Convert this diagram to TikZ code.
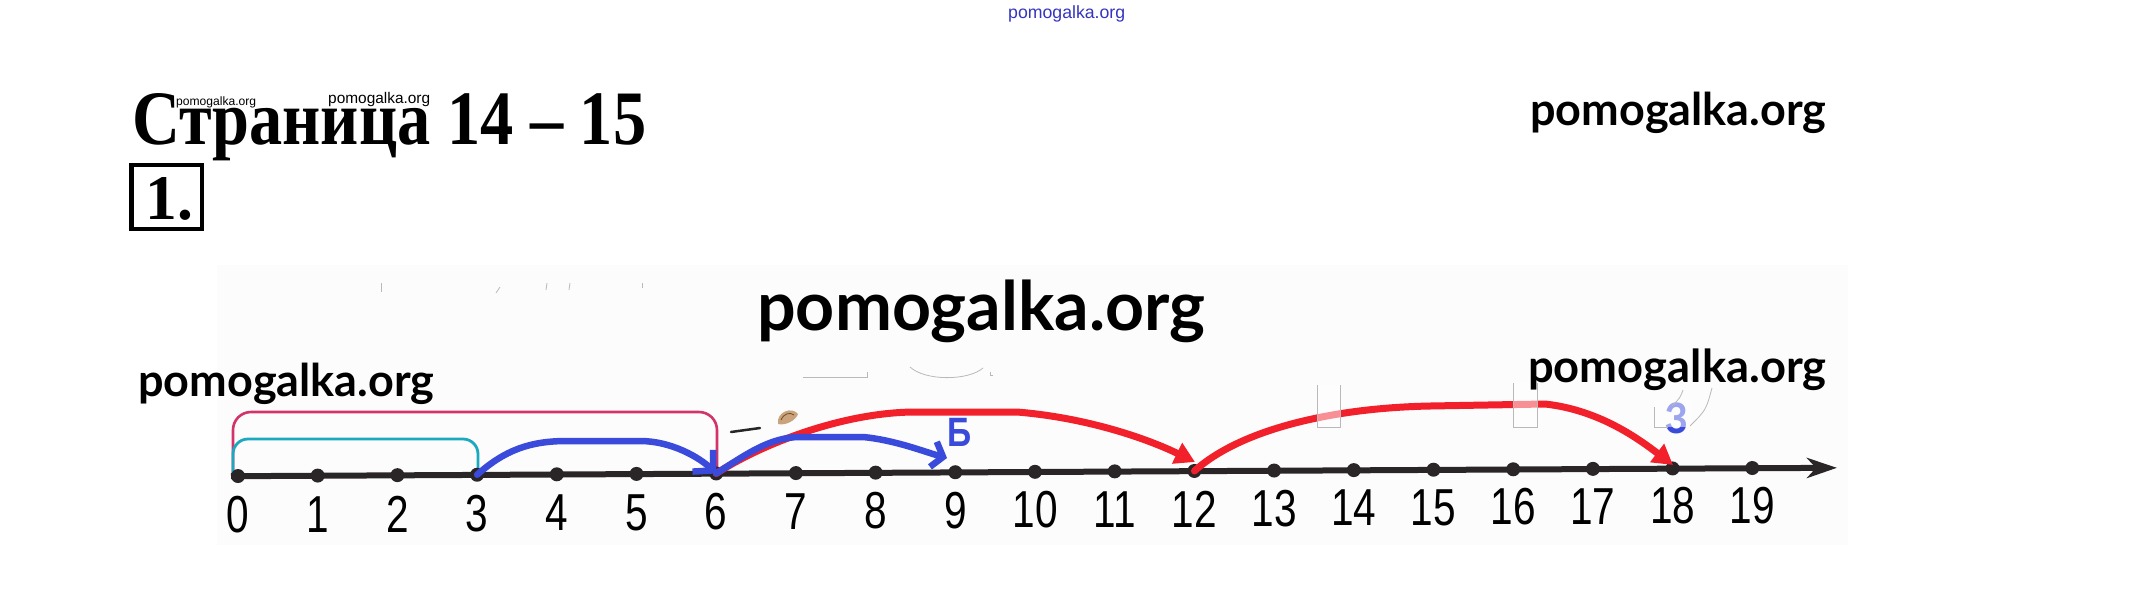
\documentclass[tikz,border=0pt]{standalone}
\usepackage{fontspec}
\usepackage{graphicx}
\setmainfont{Liberation Serif}
\newfontfamily\lato{Lato}
\newfontfamily\arialf{Liberation Sans}
\usetikzlibrary{arrows.meta,calc}
\definecolor{axisc}{HTML}{2A2526}
\definecolor{pinkc}{HTML}{D3336B}
\definecolor{tealc}{HTML}{1CA9C0}
\definecolor{bluec}{HTML}{3A4BDB}
\definecolor{redc}{HTML}{F2202A}
\definecolor{wmblue}{HTML}{3535C0}
\definecolor{tanc}{HTML}{C9A37C}
\begin{document}
\begin{tikzpicture}[x=1pt,y=-1pt,
  wm/.style={inner sep=0pt, anchor=base west},
  dot/.style={circle, fill=axisc, inner sep=0pt, minimum size=14pt},
  num/.style={inner sep=0pt, font=\arialf\fontsize{52}{52}\selectfont},
  bluearc/.style={draw=bluec, line width=6.5pt, line cap=round, line join=round},
  redarc/.style={draw=redc, line width=7pt, line cap=round, line join=round},
  faint/.style={draw=gray!55, line width=0.8pt},
  veil/.style={fill=white, fill opacity=0.5},
]
\useasboundingbox (0,0) rectangle (2131,598);
\fill[white] (0,0) rectangle (2131,598);
% picture background
\fill[black!1.2] (217,265) rectangle (1848,545);
% faint remnants
\draw[faint] (381,283) -- (381,292);
\draw[faint] (496,293) -- (500,287);
\draw[faint] (547,283) -- (546,290);
\draw[faint] (570,283) -- (569,290);
\draw[faint] (642,283) -- (642,288);
\draw[faint] (803,377) -- (867,377) -- (867,372);
\draw[faint] (910,367) .. controls (925,381) and (968,381) .. (983,368);
\draw[faint] (990,372) -- (990,375) -- (993,375);
% title
\node[anchor=base west, inner sep=0pt] (title) at (132,144) {\resizebox{514pt}{51pt}{\bfseries Страница 14 – 15}};
\node[draw, line width=4.5pt, minimum width=70.5pt, minimum height=64pt, inner sep=0pt] (box1) at (166.5,197) {};
\node[anchor=base west, inner sep=0pt] (num1) at (145,219) {\resizebox{!}{42pt}{\bfseries 1.}};
\node[wm] (wma) at (176,105) {\resizebox{80pt}{!}{\arialf pomogalka.org}};
\node[wm] (wmb) at (328,103) {\resizebox{102pt}{!}{\arialf pomogalka.org}};
\node[wm] (wmtop) at (1008,18) {\resizebox{117pt}{!}{\color{wmblue}\arialf pomogalka.org}};
% brackets
\coordinate (b0) at (233,476);
\draw[pinkc, line width=2.6pt, rounded corners=18pt] (b0) -- ++(0,-64) -| (717,472);
\draw[tealc, line width=2.8pt, rounded corners=15pt] (b0) -- ++(0,-37) -| (478,474);
% axis
\coordinate (axs) at (231,476.2);
\coordinate (axe) at (1837,467.8);
\draw[axisc, line width=6pt, -{Stealth[length=30pt,width=20pt,inset=9pt]}] (axs) -- (axe);
\foreach \n in {0,...,19}{
  \node[dot] (d\n) at ({238+79.7*\n},{476-0.42*\n}) {};
  \node[num] (l\n) at ({238+79.7*\n},{515-0.5*\n}) {\scalebox{0.78}[1]{\n}};
}
\coordinate (f9) at (947,458);
\coordinate (f12) at (1195,462);
\coordinate (f18) at (1673,465);
% arcs
\draw[redarc, -{Triangle[length=20pt,width=22pt]}] (d6.center) .. controls (760,445) and (840,413) .. (913,412) -- (1017,412) .. controls (1090,418) and (1150,440) .. (f12);
\draw[redarc, -{Triangle[length=20pt,width=22pt]}] (d12.center) .. controls (1240,430) and (1330,408) .. (1430,406) -- (1545,404) .. controls (1600,410) and (1640,440) .. (f18);
\draw[bluearc, -{Straight Barb[length=14pt,width=30pt]}] (d3.center) .. controls (505,450) and (530,441) .. (567,441) -- (640,441) .. controls (672,441) and (700,458) .. (d6.center);
\draw[bluearc, -{Straight Barb[length=10pt,width=26pt]}] (d6.center) .. controls (745,455) and (770,437) .. (800,437) -- (863,437) .. controls (895,440) and (925,452) .. (f9);
% white overlay boxes
\fill[veil] (1317,385) rectangle (1340,427);
\draw[faint] (1317,385) |- (1340,427) -- (1340,385);
\fill[veil] (1513,383) rectangle (1537,427);
\draw[faint] (1513,383) |- (1537,427) -- (1537,383);
% letters
\node[inner sep=0pt, text=bluec, font=\arialf\bfseries\fontsize{41}{41}\selectfont] (lb) at (960,432) {\scalebox{0.82}[1]{Б}};
\node[inner sep=0pt, text=bluec, font=\arialf\bfseries\fontsize{44}{44}\selectfont] (lz) at (1677,418) {\scalebox{0.82}[1]{З}};
\fill[veil] (1654,400) rectangle (1692,427);
\draw[faint] (1654,407) |- (1668,427);
\draw[faint] (1683,390) .. controls (1680,398) .. (1672,406);
\draw[faint] (1712,388) .. controls (1706,410) .. (1690,426);
% small leftovers
\draw[black!85, line width=2.5pt, line cap=round] (731,432) -- (760,428);
\fill[tanc] (778,424) .. controls (776,412) and (792,406) .. (798,414) .. controls (796,420) and (786,426) .. (778,424);
\draw[brown!60!black, line width=0.8pt] (781,420) .. controls (784,413) and (790,412) .. (794,415);
% watermarks
\node[wm] (wm1) at (1530,125) {\resizebox{296pt}{!}{\lato\bfseries pomogalka.org}};
\node[wm] (wm2) at (757,330) {\resizebox{448pt}{!}{\lato\bfseries pomogalka.org}};
\node[wm] (wm3) at (138,396) {\resizebox{296pt}{!}{\lato\bfseries pomogalka.org}};
\node[wm] (wm4) at (1528,382) {\resizebox{298pt}{!}{\lato\bfseries pomogalka.org}};
\end{tikzpicture}
\end{document}
